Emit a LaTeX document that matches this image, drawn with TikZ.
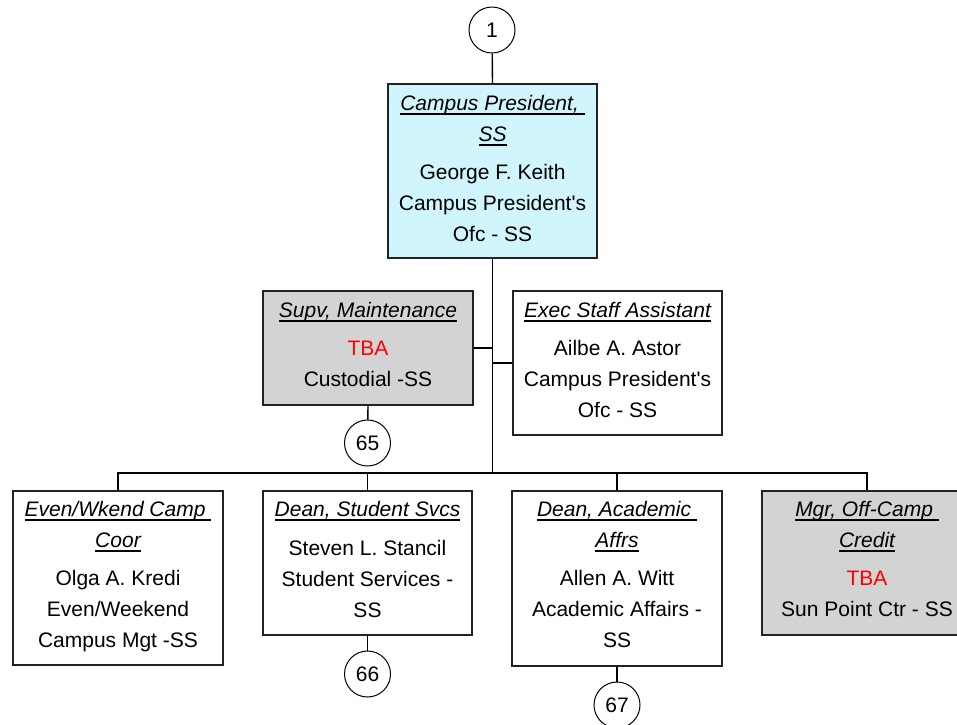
\documentclass[tikz,border=0pt]{standalone}
\usepackage{fontspec}
\setmainfont{Liberation Sans}
\definecolor{prescyan}{RGB}{208,245,252}
\definecolor{boxgray}{RGB}{211,211,211}
\definecolor{tbared}{RGB}{255,0,0}
\definecolor{edge}{RGB}{34,34,34}
\newcommand\myul[1]{\setbox0\hbox{#1}\rlap{\rule[-4.9pt]{\wd0}{1.5pt}}\box0}
\tikzset{
  orgbox/.style={draw=edge, line width=1.4pt, rectangle, inner sep=0pt},
  ttl/.style={anchor=base, inner sep=0pt, font=\fontsize{21}{25}\selectfont\itshape},
  txt/.style={anchor=base, inner sep=0pt, font=\fontsize{21}{25}\selectfont},
  tba/.style={txt, text=tbared},
  conn/.style={draw=black, line width=1.4pt},
  offpage/.style={draw=black, line width=1pt, circle, fill=white, minimum size=46pt, inner sep=0pt, font=\fontsize{21}{25}\selectfont}
}
\begin{document}
\begin{tikzpicture}[x=1pt,y=-1pt]
\useasboundingbox (0,0) rectangle (957,724);
\clip (0,0) rectangle (957,724);
\fill[white] (0,0) rectangle (957,724);

% boxes
\node[orgbox, fill=prescyan, minimum width=209pt, minimum height=174pt] (pres) at (492.5,171) {};
\node[orgbox, fill=boxgray, minimum width=210pt, minimum height=114pt] (supv) at (368,348) {};
\node[orgbox, fill=white, minimum width=209pt, minimum height=144pt] (exec) at (617.5,363) {};
\node[orgbox, fill=white, minimum width=210pt, minimum height=174pt] (b1) at (118,578) {};
\node[orgbox, fill=white, minimum width=209pt, minimum height=144pt] (b2) at (367.5,563) {};
\node[orgbox, fill=white, minimum width=210pt, minimum height=175pt] (b3) at (617,578.5) {};
\node[orgbox, fill=boxgray, minimum width=210pt, minimum height=144pt] (b4) at (867,563) {};

% off-page connectors
\node[offpage] (c1) at (492,30) {1};
\node[offpage] (c65) at (367.5,443) {65};
\node[offpage] (c66) at (367.5,674) {66};
\node[offpage] (c67) at (617,705) {67};

% connectors
\coordinate (bus) at (492.5,473);
\draw[conn] (c1) -- (pres.north);
\draw[conn] (pres.south) -- (bus);
\draw[conn] (supv.east) -- (supv.east -| pres.south);
\draw[conn] (exec.west) -- (exec.west -| pres.south);
\draw[conn] (b1.north) |- (bus) -| (b4.north);
\draw[conn] (b2.north) -- (b2.north |- bus);
\draw[conn] (b3.north) -- (b3.north |- bus);
\draw[conn] (supv.south) -- (c65);
\draw[conn] (b2.south) -- (c66);
\draw[conn] (b3.south) -- (c67);

% President text
\node[ttl] (p1) at (492.5,110) {\myul{Campus President,\ }};
\node[ttl] (p2) at (492.5,141) {\myul{SS}};
\node[txt] (p3) at (492.5,179) {George F. Keith};
\node[txt] (p4) at (492.5,210) {Campus President\textquotesingle s};
\node[txt] (p5) at (492.5,241) {Ofc - SS};

% Supv text
\node[ttl] (s1) at (368,317) {\myul{Supv, Maintenance}};
\node[tba] (s2) at (368,355) {TBA};
\node[txt] (s3) at (368,386) {Custodial -SS};

% Exec text
\node[ttl] (e1) at (617.5,317) {\myul{Exec Staff Assistant}};
\node[txt] (e2) at (617.5,355) {Ailbe A. Astor};
\node[txt] (e3) at (617.5,386) {Campus President\textquotesingle s};
\node[txt] (e4) at (617.5,417) {Ofc - SS};

% Box 1
\node[ttl] (a1) at (118,516) {\myul{Even/Wkend Camp\ }};
\node[ttl] (a2) at (118,547) {\myul{Coor}};
\node[txt] (a3) at (118,585) {Olga A. Kredi};
\node[txt] (a4) at (118,616) {Even/Weekend};
\node[txt] (a5) at (118,647) {Campus Mgt -SS};

% Box 2
\node[ttl] (d1) at (367.5,516) {\myul{Dean, Student Svcs}};
\node[txt] (d2) at (367.5,555) {Steven L. Stancil};
\node[txt] (d3) at (367.5,586) {Student Services -};
\node[txt] (d4) at (367.5,617) {SS};

% Box 3
\node[ttl] (f1) at (617,516) {\myul{Dean, Academic\ }};
\node[ttl] (f2) at (617,547) {\myul{Affrs}};
\node[txt] (f3) at (617,585) {Allen A. Witt};
\node[txt] (f4) at (617,616) {Academic Affairs -};
\node[txt] (f5) at (617,647) {SS};

% Box 4
\node[ttl] (g1) at (867,516) {\myul{Mgr, Off-Camp\ }};
\node[ttl] (g2) at (867,547) {\myul{Credit}};
\node[tba] (g3) at (867,585) {TBA};
\node[txt] (g4) at (867,616) {Sun Point Ctr - SS};
\end{tikzpicture}
\end{document}
